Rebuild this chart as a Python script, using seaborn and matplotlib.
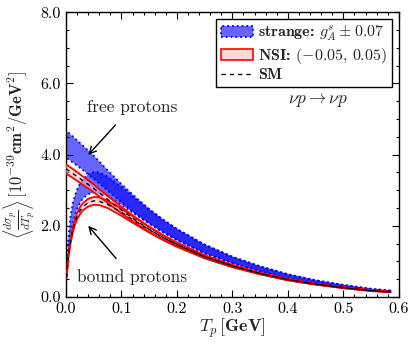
import numpy as np
import pandas as pd
import matplotlib
matplotlib.use("Agg")
import matplotlib.pyplot as plt
import seaborn as sns
from matplotlib.patches import Patch
from matplotlib.lines import Line2D
from matplotlib.ticker import MultipleLocator, FormatStrFormatter

# ---------------- data ----------------
T_free = [0.0, 0.025, 0.05, 0.075, 0.1, 0.125, 0.15, 0.175, 0.2,
          0.25, 0.3, 0.35, 0.4, 0.45, 0.5, 0.55, 0.585]
free_sm = [3.60, 3.33, 3.05, 2.74, 2.44, 2.16, 1.90, 1.67, 1.47,
           1.13, 0.87, 0.66, 0.49, 0.36, 0.26, 0.18, 0.14]
free_blue_hi = [4.68, 4.33, 3.97, 3.56, 3.17, 2.81, 2.47, 2.17, 1.91,
                1.47, 1.13, 0.86, 0.64, 0.47, 0.34, 0.23, 0.18]
free_blue_lo = [3.92, 3.63, 3.32, 2.99, 2.66, 2.35, 2.07, 1.82, 1.60,
                1.23, 0.95, 0.72, 0.53, 0.39, 0.28, 0.20, 0.15]
free_red_hi = [3.73, 3.45, 3.16, 2.84, 2.53, 2.24, 1.97, 1.73, 1.52,
               1.17, 0.90, 0.68, 0.51, 0.37, 0.27, 0.19, 0.145]
free_red_lo = [3.47, 3.21, 2.94, 2.64, 2.35, 2.08, 1.83, 1.61, 1.42,
               1.09, 0.84, 0.64, 0.47, 0.35, 0.25, 0.17, 0.135]

T_bound_head = [0.001, 0.004, 0.008, 0.012, 0.016, 0.02, 0.025, 0.03, 0.04,
                0.05, 0.06, 0.075, 0.1, 0.125, 0.15, 0.175, 0.2]
bound_sm_head = [0.55, 1.10, 1.55, 1.88, 2.10, 2.27, 2.42, 2.53, 2.65,
                 2.70, 2.69, 2.60, 2.38, 2.13, 1.89, 1.67, 1.47]
bound_blue_hi_head = [0.72, 1.60, 2.25, 2.62, 2.85, 3.02, 3.18, 3.30, 3.45,
                      3.51, 3.50, 3.38, 3.09, 2.77, 2.46, 2.17, 1.91]
bound_blue_lo_head = [0.60, 1.20, 1.69, 2.05, 2.29, 2.47, 2.64, 2.76, 2.89,
                      2.94, 2.93, 2.83, 2.59, 2.32, 2.06, 1.82, 1.60]
bound_red_hi_head = [0.57, 1.14, 1.61, 1.96, 2.18, 2.36, 2.52, 2.63, 2.76,
                     2.81, 2.80, 2.70, 2.48, 2.22, 1.97, 1.74, 1.53]
bound_red_lo_head = [0.53, 1.06, 1.49, 1.80, 2.02, 2.18, 2.32, 2.43, 2.54,
                     2.59, 2.58, 2.50, 2.28, 2.04, 1.81, 1.60, 1.41]

# beyond T = 0.2 GeV the bound-proton curves coincide with the free ones
tail = T_free.index(0.25)
T_bound = T_bound_head + T_free[tail:]
bound_sm = bound_sm_head + free_sm[tail:]
bound_blue_hi = bound_blue_hi_head + free_blue_hi[tail:]
bound_blue_lo = bound_blue_lo_head + free_blue_lo[tail:]
bound_red_hi = bound_red_hi_head + free_red_hi[tail:]
bound_red_lo = bound_red_lo_head + free_red_lo[tail:]

legend_labels = [r"strange: $g_A^s \pm \mathbf{0.07}$",
                 r"NSI: $\mathbf{(-0.05,\,0.05)}$", "SM"]

# ---------------- style ----------------
sns.set_style("ticks")
plt.rcParams["font.family"] = ["cmr10", "DejaVu Serif"]
plt.rcParams["mathtext.fontset"] = "cm"
plt.rcParams["axes.formatter.use_mathtext"] = True
plt.rcParams["axes.unicode_minus"] = False

fig = plt.figure(figsize=(4.15, 3.47), dpi=100)
ax = fig.add_axes([0.159, 0.144, 0.802, 0.821])

blue = (0.0, 0.0, 1.0)
red = (1.0, 0.0, 0.0)

for T, lo, hi in [(T_free, free_blue_lo, free_blue_hi),
                  (T_bound, bound_blue_lo, bound_blue_hi)]:
    ax.fill_between(T, lo, hi, facecolor=(0.0, 0.0, 1.0, 0.6),
                    edgecolor=blue, linestyle=":", linewidth=1.3, zorder=2)

for T, lo, hi in [(T_free, free_red_lo, free_red_hi),
                  (T_bound, bound_red_lo, bound_red_hi)]:
    ax.fill_between(T, lo, hi, facecolor=(1.0, 0.75, 0.75, 0.55),
                    edgecolor="none", zorder=3)
    sns.lineplot(x=T, y=lo, ax=ax, color=red, linewidth=1.3, zorder=4)
    sns.lineplot(x=T, y=hi, ax=ax, color=red, linewidth=1.3, zorder=4)

for T, sm in [(T_free, free_sm), (T_bound, bound_sm)]:
    df = pd.DataFrame({"T": T, "sm": sm})
    sns.lineplot(data=df, x="T", y="sm", ax=ax, color="black",
                 linewidth=1.0, linestyle=(0, (3, 3)), zorder=5)

ax.set_xlim(0.0, 0.6)
ax.set_ylim(0.0, 8.0)
ax.xaxis.set_major_locator(MultipleLocator(0.1))
ax.xaxis.set_minor_locator(MultipleLocator(0.02))
ax.yaxis.set_major_locator(MultipleLocator(2.0))
ax.yaxis.set_minor_locator(MultipleLocator(0.5))
ax.xaxis.set_major_formatter(FormatStrFormatter("%.1f"))
ax.yaxis.set_major_formatter(FormatStrFormatter("%.1f"))
ax.tick_params(which="both", direction="in", top=True, right=True,
               labelsize=11.5, width=0.8, colors="black")
ax.tick_params(which="major", length=5)
ax.tick_params(which="minor", length=2.5)
for s in ax.spines.values():
    s.set_linewidth(1.0)
    s.set_color("black")

ax.set_xlabel(r"$T_p\,[\mathbf{GeV}]$", fontsize=13, labelpad=1)
ax.set_ylabel(r"$\left\langle\frac{d\sigma_p}{dT_p}\right\rangle\,[\mathbf{10^{-39}cm^2/GeV^2}]$",
              fontsize=12, labelpad=2)

ax.annotate("free protons", xy=(0.04, 3.99), xytext=(0.119, 5.34),
            ha="center", va="center", fontsize=12.5,
            arrowprops=dict(arrowstyle="->", color="black", lw=1.0,
                            shrinkA=7, shrinkB=0))
ax.annotate("bound protons", xy=(0.04, 2.0), xytext=(0.119, 0.56),
            ha="center", va="center", fontsize=12.5,
            arrowprops=dict(arrowstyle="->", color="black", lw=1.0,
                            shrinkA=7, shrinkB=0))
ax.text(0.454, 5.53, r"$\nu p \rightarrow \nu p$", ha="center", va="center",
        fontsize=12.5)

handles = [Patch(facecolor=(0.0, 0.0, 1.0, 0.6), edgecolor=blue,
                 linestyle=":", linewidth=1.3),
           Patch(facecolor=(1.0, 0.85, 0.85), edgecolor=red, linewidth=1.2),
           Line2D([0], [0], color="black", linestyle=(0, (3, 3)), linewidth=1.0)]
leg = ax.legend(handles, legend_labels, loc="upper right",
                prop={"family": "cmb10", "size": 11.5},
                frameon=True, fancybox=False, edgecolor="black",
                borderaxespad=0.45, handlelength=2.0, handletextpad=0.3,
                labelspacing=0.15, borderpad=0.3)
leg.get_frame().set_linewidth(1.0)
leg.get_frame().set_alpha(1.0)

fig.savefig("out.png", dpi=100)
